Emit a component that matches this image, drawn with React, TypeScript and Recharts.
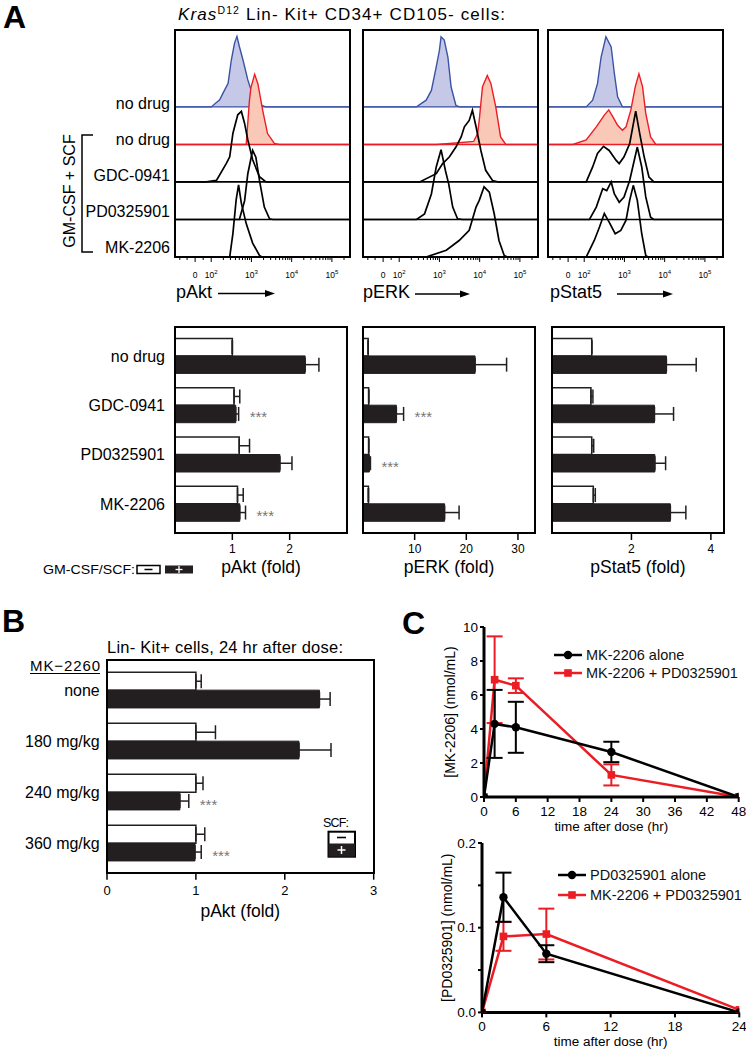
import React from 'react'
import {
    ComposedChart, Area, XAxis, YAxis, BarChart, Bar, ErrorBar, LabelList,
    LineChart, Line, Legend
} from 'recharts'

const FONT = '"Liberation Sans", Arial, Helvetica, sans-serif'
const INK = '#231f20'
const RED = '#ec1c24'

// ---------- panel A: flow histograms (x in log10 display units, h = height in row units)
type Pt = [number, number]

const histRowLabels = ['no drug', 'no drug', 'GDC-0941', 'PD0325901', 'MK-2206']

const pAktCurves: Pt[][] = [
    [[2.0, 0], [2.21, 0.19], [2.29, 0.36], [2.42, 0.63], [2.5, 1.25], [2.58, 1.7], [2.64, 1.88], [2.7, 1.61], [2.79, 1.25], [2.91, 0.72], [3.03, 0.32], [3.24, 0.05], [3.36, 0]],
    [[2.87, 0], [2.95, 1.17], [2.99, 1.53], [3.08, 1.87], [3.16, 1.62], [3.28, 0.91], [3.4, 0.29], [3.57, 0.03], [3.69, 0]],
    [[1.88, 0], [2.13, 0.04], [2.38, 0.5], [2.46, 0.67], [2.54, 1.3], [2.66, 1.79], [2.75, 1.88], [2.83, 1.56], [2.91, 1.12], [3.03, 0.59], [3.2, 0.14], [3.36, 0]],
    [[2.7, 0], [2.83, 0.5], [2.91, 1.22], [3.03, 1.84], [3.11, 1.66], [3.2, 1.04], [3.32, 0.33], [3.45, 0.02], [3.53, 0]],
    [[2.46, 0], [2.54, 0.63], [2.62, 1.52], [2.68, 1.92], [2.75, 1.43], [2.87, 0.89], [3.03, 0.37], [3.2, 0.04], [3.26, 0]],
]

const pErkCurves: Pt[][] = [
    [[2.43, 0], [2.67, 0.18], [2.8, 0.44], [2.92, 1.07], [3.0, 1.51], [3.04, 1.87], [3.12, 1.78], [3.21, 1.33], [3.29, 0.53], [3.41, 0.04], [3.5, 0]],
    [[2.92, 0], [3.41, 0.04], [3.85, 0.08], [3.95, 0.3], [3.99, 0.65], [4.07, 1.54], [4.19, 1.84], [4.28, 1.62], [4.4, 1.0], [4.52, 0.2], [4.65, 0]],
    [[2.51, 0], [2.92, 0.22], [3.08, 0.49], [3.25, 0.67], [3.41, 0.93], [3.54, 1.2], [3.62, 1.47], [3.74, 1.64], [3.82, 1.91], [3.91, 1.47], [4.03, 0.84], [4.15, 0.31], [4.32, 0.04], [4.47, 0]],
    [[2.43, 0], [2.63, 0.15], [2.8, 0.68], [2.92, 1.4], [3.04, 1.86], [3.15, 1.3], [3.23, 0.95], [3.33, 0.33], [3.45, 0.02], [3.57, 0]],
    [[2.67, 0], [3.17, 0.18], [3.49, 0.44], [3.74, 0.71], [3.91, 1.33], [3.99, 1.51], [4.11, 1.87], [4.24, 1.73], [4.36, 1.16], [4.48, 0.44], [4.61, 0.04], [4.69, 0]],
]

const pStat5Curves: Pt[][] = [
    [[2.05, 0], [2.21, 0.18], [2.33, 0.62], [2.42, 1.33], [2.54, 1.87], [2.67, 1.6], [2.75, 0.89], [2.83, 0.27], [2.95, 0]],
    [[1.72, 0], [2.05, 0.12], [2.3, 0.47], [2.5, 0.78], [2.61, 0.92], [2.71, 0.74], [2.83, 0.51], [2.95, 0.38], [3.04, 0.47], [3.16, 0.92], [3.27, 1.54], [3.36, 1.88], [3.45, 1.54], [3.53, 0.83], [3.65, 0.2], [3.78, 0]],
    [[2.05, 0], [2.21, 0.4], [2.33, 0.76], [2.48, 0.95], [2.62, 0.84], [2.79, 0.58], [2.87, 0.49], [2.99, 0.67], [3.13, 1.02], [3.28, 1.89], [3.38, 1.29], [3.49, 0.67], [3.61, 0.13], [3.73, 0]],
    [[2.13, 0], [2.3, 0.33], [2.46, 0.82], [2.56, 0.77], [2.67, 1.0], [2.75, 0.68], [2.87, 0.46], [2.99, 0.6], [3.13, 1.04], [3.32, 1.93], [3.43, 1.4], [3.53, 0.6], [3.65, 0.06], [3.73, 0]],
    [[2.05, 0], [2.25, 0.44], [2.38, 0.8], [2.5, 1.16], [2.62, 0.93], [2.77, 0.62], [2.91, 0.71], [3.04, 0.98], [3.13, 1.51], [3.22, 1.91], [3.32, 1.51], [3.43, 0.62], [3.53, 0.04], [3.58, 0]],
]

const histMajor = [
    { u: 1.6, base: '0', exp: '' },
    { u: 2, base: '10', exp: '2' },
    { u: 3, base: '10', exp: '3' },
    { u: 4, base: '10', exp: '4' },
    { u: 5, base: '10', exp: '5' },
]
const histLowMinor = [1.22, 1.4, 1.8]

// ---------- panel A: fold-change bars
const drugRows = ['no drug', 'GDC-0941', 'PD0325901', 'MK-2206']

const pAktUnstim = [1.0, 1.03, 1.12, 1.09]
const pAktUnstimErr = [0, 0.1, 0.18, 0.1]
const pAktStim = [2.27, 1.06, 1.83, 1.13]
const pAktStimErr = [0.24, 0.05, 0.21, 0.1]
const pAktSig = ['', '***', '', '***']

const pErkUnstim = [1.0, 1.1, 1.1, 1.05]
const pErkUnstimErr = [0, 0, 0, 0]
const pErkStim = [21.7, 6.46, 1.24, 15.8]
const pErkStimErr = [6.1, 1.4, 0.2, 2.8]
const pErkSig = ['', '***', '***', '']

const pStat5Unstim = [1.0, 0.98, 1.0, 1.04]
const pStat5UnstimErr = [0, 0.05, 0.05, 0.05]
const pStat5Stim = [2.88, 2.58, 2.59, 2.98]
const pStat5StimErr = [0.75, 0.48, 0.27, 0.39]
const pStat5Sig = ['', '', '', '']

// ---------- panel B
const doseRows = ['none', '180 mg/kg', '240 mg/kg', '360 mg/kg']
const doseUnstim = [1.0, 1.0, 1.0, 1.0]
const doseUnstimErr = [0.06, 0.22, 0.08, 0.1]
const doseStim = [2.39, 2.16, 0.82, 0.99]
const doseStimErr = [0.12, 0.36, 0.1, 0.07]
const doseSig = ['', '', '***', '***']

// ---------- panel C
const mkTime = [0, 2, 6, 24, 48]
const mkAlone = [0, 4.3, 4.1, 2.65, 0]
const mkAloneErr = [0, 2.0, 1.5, 0.6, 0]
const mkCombo = [0, 6.9, 6.55, 1.3, 0]
const mkComboErr = [0, 2.55, 0.43, 0.62, 0]
const mkTicksX = [0, 6, 12, 18, 24, 30, 36, 42, 48]
const mkTicksY = [0, 2, 4, 6, 8, 10]

const pdTime = [0, 2, 6, 24]
const pdAlone = [0, 0.136, 0.0693, 0]
const pdAloneErr = [0, 0.029, 0.01, 0]
const pdCombo = [0, 0.0897, 0.0925, 0.003]
const pdComboErr = [0, 0.017, 0.03, 0]
const pdTicksX = [0, 6, 12, 18, 24]
const pdTicksY = [0, 0.05, 0.1, 0.15, 0.2]

// ---------- layout
const U_MIN = 1.1
const U_MAX = 5.45
const HIST_TOP = 30
const HIST_W = 175
const HIST_H = 227
const BAR_TOP = 327
const BAR_W = 172
const BAR_H = 206

const histTicks = [
    ...histLowMinor,
    ...histMajor.map(m => m.u),
    ...[2, 3, 4, 5].flatMap(d => [2, 3, 4, 5, 6, 7, 8, 9].map(k => d + Math.log10(k))).filter(u => u < U_MAX),
].sort((a, b) => a - b)

const histStyles = [
    { stroke: '#3a53a4', fill: '#c5c8e7', w: 1.4 },
    { stroke: RED, fill: '#f9c8b7', w: 1.4 },
    { stroke: '#000', fill: 'none', w: 1.7 },
    { stroke: '#000', fill: 'none', w: 1.7 },
    { stroke: '#000', fill: 'none', w: 1.7 },
]

function renderHistTick(p: any) {
    const { x, y, payload } = p
    const major = histMajor.find(m => Math.abs(m.u - payload.value) < 1e-6)
    return (
        <g>
            <line x1={x} x2={x} y1={y} y2={y + (major ? 5 : 3)} stroke="#000" strokeWidth={1} />
            {major && (
                <text x={x} y={y + 21} textAnchor="middle" fontSize={8.5} fontFamily={FONT} fill="#000">
                    {major.base}
                    {major.exp && <tspan dy={-4} fontSize={6}>{major.exp}</tspan>}
                </text>
            )}
        </g>
    )
}

function renderRowTick(p: any) {
    const { x, y, payload } = p
    const row = payload.value as number
    return (
        <text x={x} y={y + 1.7 - (4 - row) * 1.5} textAnchor="end" fontSize={16} fontFamily={FONT} fill="#000">
            {histRowLabels[4 - row]}
        </text>
    )
}

function HistPanel({ plotLeft, curves, showRows }: { plotLeft: number, curves: Pt[][], showRows?: boolean }) {
    const yW = showRows ? 120 : 0
    const series = curves.map((pts, i) => {
        const row = 4 - i
        const all: Pt[] = [[U_MIN, 0], ...pts, [U_MAX, 0]]
        return all.map(([u, h]) => ({ u, band: [row, row + h] }))
    })
    return (
        <div style={{ position: 'absolute', left: plotLeft - 5 - yW, top: HIST_TOP - 5 }}>
            <ComposedChart width={5 + yW + HIST_W + 5} height={5 + HIST_H + 30} margin={{ top: 5, right: 5, bottom: 0, left: 5 }}>
                <XAxis type="number" dataKey="u" domain={[U_MIN, U_MAX]} allowDataOverflow ticks={histTicks}
                    interval={0} tick={renderHistTick} tickLine={false} axisLine={false} tickSize={0} tickMargin={0} height={30} />
                <YAxis type="number" domain={[0, 6.05]} allowDataOverflow hide={!showRows} width={yW}
                    ticks={[0, 1, 2, 3, 4]} interval={0} tick={renderRowTick} tickLine={false} axisLine={false}
                    tickSize={0} tickMargin={5} />
                {series.map((data, i) => (
                    <Area key={i} data={data} dataKey="band" type="linear" stroke={histStyles[i].stroke}
                        fill={histStyles[i].fill} fillOpacity={1} strokeWidth={histStyles[i].w} dot={false} activeDot={false}
                        isAnimationActive={false} />
                ))}
            </ComposedChart>
        </div>
    )
}

function Frame({ x, y, w, h }: { x: number, y: number, w: number, h: number }) {
    return <div style={{ position: 'absolute', left: x - 1, top: y - 1, width: w + 2, height: h + 2, border: '2px solid #000', boxSizing: 'border-box' }} />
}

const starLabel = (vals: number[], errs: number[]) => (p: any) => {
    const vb = p.viewBox || p
    const { index, value } = p
    if (!value) return null
    const errPx = vals[index] ? (vb.width * errs[index]) / vals[index] : 0
    return (
        <text x={vb.x + vb.width + errPx + 11} y={vb.y + vb.height / 2 + 8.5} fontSize={15} fill="#777" fontFamily={FONT}>
            {value}
        </text>
    )
}

interface FoldProps {
    left: number, top: number, w: number, h: number
    rows: string[], un: number[], unErr: number[], st: number[], stErr: number[], sig: string[]
    max: number, ticks: number[], label: string
    rowW?: number, rowMargin?: number, tickFont: number, tickSize: number, tickMargin: number, xH: number, pad: number, barSize: number
}

function FoldPanel(p: FoldProps) {
    const yW = p.rowW || 0
    const data = p.rows.map((name, i) => ({
        name, un: p.un[i], unErr: [0, p.unErr[i]], st: p.st[i], stErr: [0, p.stErr[i]], sig: p.sig[i],
    }))
    return (
        <div style={{ position: 'absolute', left: p.left - 5 - yW, top: p.top - 5 }}>
            <BarChart layout="vertical" width={5 + yW + p.w + 5} height={5 + p.h + p.xH + 8} data={data}
                margin={{ top: 5, right: 5, bottom: 8, left: 5 }} barGap={0} barSize={p.barSize}>
                <XAxis type="number" domain={[0, p.max]} allowDataOverflow ticks={p.ticks} interval={0}
                    tickSize={p.tickSize} tickMargin={p.tickMargin} axisLine={false}
                    tickLine={{ stroke: '#000', strokeWidth: 1.5 }} tick={{ fontSize: p.tickFont, fill: '#000', fontFamily: FONT }}
                    height={p.xH} label={{ value: p.label, position: 'insideBottom', offset: 0, fontSize: 17.5, fill: '#000', fontFamily: FONT }} />
                <YAxis type="category" dataKey="name" hide={!yW} width={yW} tickLine={false} axisLine={false}
                    tickSize={0} tickMargin={p.rowMargin || 0} padding={{ top: p.pad, bottom: p.pad }}
                    tick={{ fontSize: 16, fill: '#000', fontFamily: FONT }} />
                <Bar dataKey="un" fill="#fff" stroke={INK} strokeWidth={1.5} isAnimationActive={false}>
                    <ErrorBar dataKey="unErr" direction="x" width={7} strokeWidth={1.5} stroke={INK} />
                </Bar>
                <Bar dataKey="st" fill={INK} stroke={INK} strokeWidth={1} isAnimationActive={false}>
                    <ErrorBar dataKey="stErr" direction="x" width={7} strokeWidth={1.5} stroke={INK} />
                    <LabelList dataKey="sig" content={starLabel(p.st, p.stErr)} />
                </Bar>
            </BarChart>
        </div>
    )
}

const circleDot = (p: any) => <circle key={p.index} cx={p.cx} cy={p.cy} r={4.2} fill="#000" stroke="none" />
const squareDot = (p: any) => <rect key={p.index} x={p.cx - 3.8} y={p.cy - 3.8} width={7.6} height={7.6} fill={RED} stroke="none" />

const makeLegend = (rowH: number) => (props: any) => {
    const entries = [...(props.payload || [])].sort((a: any, b: any) => (a.color === '#000' ? 0 : 1) - (b.color === '#000' ? 0 : 1))
    return (
        <div style={{ fontFamily: FONT }}>
            {entries.map((e: any, i: number) => (
                <div key={i} style={{ display: 'flex', alignItems: 'center', height: rowH }}>
                    <svg width={28} height={12}>
                        <line x1={0} x2={28} y1={6} y2={6} stroke={e.color} strokeWidth={2.5} />
                        {e.color === '#000'
                            ? <circle cx={14} cy={6} r={4.2} fill={e.color} />
                            : <rect x={10.2} y={2.2} width={7.6} height={7.6} fill={e.color} />}
                    </svg>
                    <span style={{ marginLeft: 4, fontSize: 14.5, color: '#111', whiteSpace: 'nowrap' }}>{e.value}</span>
                </div>
            ))}
        </div>
    )
}

interface PkProps {
    left: number, top: number, w: number, h: number, yW: number, yOffset: number
    time: number[], alone: number[], aloneErr: number[], combo: number[], comboErr: number[]
    xMax: number, yMax: number, ticksX: number[], ticksY: number[], yLabel: string, aloneName: string
    fmtY: (v: number) => string, legLeft: number, legTop: number, legRow: number
}

function PkPanel(p: PkProps) {
    const data = p.time.map((t, i) => ({
        t, alone: p.alone[i], aloneErr: p.aloneErr[i], combo: p.combo[i], comboErr: p.comboErr[i],
    }))
    const mT = 10
    return (
        <div style={{ position: 'absolute', left: p.left - p.yW, top: p.top - mT }}>
            <LineChart width={p.yW + p.w + 7} height={mT + p.h + 38} data={data} margin={{ top: mT, right: 7, bottom: 4, left: 0 }}>
                <XAxis type="number" dataKey="t" domain={[0, p.xMax]} allowDataOverflow ticks={p.ticksX} interval={0}
                    tickSize={5} tickMargin={4} axisLine={{ stroke: '#000', strokeWidth: 3 }} tickLine={{ stroke: '#000', strokeWidth: 2 }}
                    tick={{ fontSize: 13.5, fill: '#000', fontFamily: FONT }} height={34}
                    label={{ value: 'time after dose (hr)', position: 'insideBottom', offset: 0, fontSize: 13.5, fill: '#000', fontFamily: FONT }} />
                <YAxis type="number" domain={[0, p.yMax]} allowDataOverflow ticks={p.ticksY} interval={0} width={p.yW}
                    tickSize={4} tickMargin={2} axisLine={{ stroke: '#000', strokeWidth: 3 }} tickLine={{ stroke: '#000', strokeWidth: 2 }}
                    tick={{ fontSize: 13.5, fill: '#000', fontFamily: FONT }} tickFormatter={p.fmtY}
                    label={{ value: p.yLabel, angle: -90, position: 'insideLeft', offset: p.yOffset, fontSize: 14, fill: '#000', fontFamily: FONT, style: { textAnchor: 'middle' } }} />
                <Legend layout="vertical" align="center" verticalAlign="middle" content={makeLegend(p.legRow)}
                    wrapperStyle={{ left: p.legLeft, top: p.legTop, width: 220, height: 'auto' }} />
                <Line dataKey="combo" name="MK-2206 + PD0325901" stroke={RED} strokeWidth={2.5} dot={squareDot}
                    activeDot={false} isAnimationActive={false}>
                    <ErrorBar dataKey="comboErr" direction="y" width={8} strokeWidth={2} stroke={RED} />
                </Line>
                <Line dataKey="alone" name={p.aloneName} stroke="#000" strokeWidth={2.5} dot={circleDot}
                    activeDot={false} isAnimationActive={false}>
                    <ErrorBar dataKey="aloneErr" direction="y" width={8} strokeWidth={2} stroke="#000" />
                </Line>
            </LineChart>
        </div>
    )
}

function Arrow({ x1, x2, y }: { x1: number, x2: number, y: number }) {
    return (
        <g>
            <line x1={x1} x2={x2 - 8} y1={y} y2={y} stroke="#000" strokeWidth={1.5} />
            <path d={`M${x2 - 10},${y - 3.5} L${x2},${y} L${x2 - 10},${y + 3.5} Z`} fill="#000" />
        </g>
    )
}

export default function App() {
    return (
        <div style={{ position: 'absolute', left: 0, top: 0, width: 746, height: 1050, background: '#fff', fontFamily: FONT, overflow: 'hidden' }}>
            <HistPanel plotLeft={175} curves={pAktCurves} showRows />
            <HistPanel plotLeft={362.5} curves={pErkCurves} />
            <HistPanel plotLeft={548} curves={pStat5Curves} />
            <Frame x={175} y={HIST_TOP} w={HIST_W} h={HIST_H} />
            <Frame x={362.5} y={HIST_TOP} w={HIST_W} h={HIST_H} />
            <Frame x={548} y={HIST_TOP} w={HIST_W} h={HIST_H} />

            <FoldPanel left={175} top={BAR_TOP} w={BAR_W} h={BAR_H} rows={drugRows} un={pAktUnstim} unErr={pAktUnstimErr}
                st={pAktStim} stErr={pAktStimErr} sig={pAktSig} max={3} ticks={[1, 2]} label="pAkt (fold)"
                rowW={120} rowMargin={10} tickFont={12} tickSize={7} tickMargin={4} xH={40} pad={4.4} barSize={17.5} />
            <FoldPanel left={363} top={BAR_TOP} w={BAR_W} h={BAR_H} rows={drugRows} un={pErkUnstim} unErr={pErkUnstimErr}
                st={pErkStim} stErr={pErkStimErr} sig={pErkSig} max={33.3} ticks={[10, 20, 30]} label="pERK (fold)"
                tickFont={12} tickSize={7} tickMargin={4} xH={40} pad={4.4} barSize={17.5} />
            <FoldPanel left={552} top={BAR_TOP} w={BAR_W} h={BAR_H} rows={drugRows} un={pStat5Unstim} unErr={pStat5UnstimErr}
                st={pStat5Stim} stErr={pStat5StimErr} sig={pStat5Sig} max={4.33} ticks={[2, 4]} label="pStat5 (fold)"
                tickFont={12} tickSize={7} tickMargin={4} xH={40} pad={4.4} barSize={17.5} />
            <Frame x={175} y={BAR_TOP} w={BAR_W} h={BAR_H} />
            <Frame x={363} y={BAR_TOP} w={BAR_W} h={BAR_H} />
            <Frame x={552} y={BAR_TOP} w={BAR_W} h={BAR_H} />

            <FoldPanel left={107.3} top={660} w={266.7} h={212.7} rows={doseRows} un={doseUnstim} unErr={doseUnstimErr}
                st={doseStim} stErr={doseStimErr} sig={doseSig} max={3} ticks={[0, 1, 2, 3]} label="pAkt (fold)"
                rowW={100} rowMargin={7.3} tickFont={13} tickSize={7} tickMargin={6} xH={44} pad={4.35} barSize={17.8} />
            <Frame x={107.3} y={660} w={266.7} h={212.7} />

            <PkPanel left={484.3} top={626.7} w={254.7} h={170} yW={48} yOffset={13.7}
                time={mkTime} alone={mkAlone} aloneErr={mkAloneErr} combo={mkCombo} comboErr={mkComboErr}
                xMax={48} yMax={10} ticksX={mkTicksX} ticksY={mkTicksY} yLabel="[MK-2206] (nmol/mL)" aloneName="MK-2206 alone"
                fmtY={(v) => String(v)} legLeft={117.7} legTop={29.3} legRow={18.3} />
            <PkPanel left={481.7} top={843.3} w={257.3} h={169.4} yW={48} yOffset={13}
                time={pdTime} alone={pdAlone} aloneErr={pdAloneErr} combo={pdCombo} comboErr={pdComboErr}
                xMax={24} yMax={0.2} ticksX={pdTicksX} ticksY={pdTicksY} yLabel="[PD0325901] (nmol/mL)" aloneName="PD0325901 alone"
                fmtY={(v) => (Math.abs(v * 10 - Math.round(v * 10)) < 1e-6 ? v.toFixed(1) : '')} legLeft={124.3} legTop={32.5} legRow={19.4} />

            <svg width={746} height={1050} style={{ position: 'absolute', left: 0, top: 0, pointerEvents: 'none' }} fontFamily={FONT}>
                <text x={3} y={28} fontSize={32} fontWeight="bold">A</text>
                <text x={2} y={632} fontSize={32} fontWeight="bold">B</text>
                <text x={402} y={633.5} fontSize={32} fontWeight="bold">C</text>

                <text x={178} y={19.5} fontSize={17} textLength={327} lengthAdjust="spacing">
                    <tspan fontStyle="italic">Kras</tspan>
                    <tspan dy={-6} fontSize={10.5}>D12</tspan>
                    <tspan dy={6}> Lin- Kit+ CD34+ CD105- cells:</tspan>
                </text>

                <path d="M93,135 H82 V252 H93" fill="none" stroke="#000" strokeWidth={1.5} />
                <text transform="translate(75,191) rotate(-90)" textAnchor="middle" fontSize={16}>GM-CSF + SCF</text>

                <text x={176} y={298} fontSize={18}>pAkt</text>
                <Arrow x1={218} x2={275} y={293.5} />
                <text x={363} y={298} fontSize={18}>pERK</text>
                <Arrow x1={415} x2={470} y={294} />
                <text x={550} y={298} fontSize={18}>pStat5</text>
                <Arrow x1={617} x2={673} y={294} />

                <text x={43} y={574} fontSize={13.5} textLength={92} lengthAdjust="spacingAndGlyphs">GM-CSF/SCF:</text>
                <rect x={137} y={565.5} width={23} height={8} fill="#fff" stroke="#000" strokeWidth={1.5} />
                <line x1={144.5} x2={152.5} y1={569.5} y2={569.5} stroke="#000" strokeWidth={1.5} />
                <rect x={165} y={565.5} width={28} height={8} fill={INK} />
                <line x1={175.5} x2={182.5} y1={569.5} y2={569.5} stroke="#fff" strokeWidth={1.3} />
                <line x1={179} x2={179} y1={566} y2={573} stroke="#fff" strokeWidth={1.3} />

                <text x={107} y={653.3} fontSize={16.5} textLength={236} lengthAdjust="spacing">Lin- Kit+ cells, 24 hr after dose:</text>
                <text x={30} y={671} fontSize={15} textLength={70} lengthAdjust="spacing">MK−2260</text>
                <line x1={30} x2={100} y1={673.5} y2={673.5} stroke="#000" strokeWidth={1} />

                <text x={323} y={826.7} fontSize={12.5} textLength={26} lengthAdjust="spacing">SCF:</text>
                <rect x={328.5} y={831.7} width={26.5} height={25} fill="#fff" stroke="#000" strokeWidth={2} />
                <rect x={328.5} y={843.5} width={26.5} height={13.2} fill={INK} />
                <line x1={337} x2={346} y1={837.5} y2={837.5} stroke="#000" strokeWidth={1.6} />
                <line x1={337.5} x2={345.5} y1={850} y2={850} stroke="#fff" strokeWidth={1.5} />
                <line x1={341.5} x2={341.5} y1={846} y2={854} stroke="#fff" strokeWidth={1.5} />
            </svg>
        </div>
    )
}
